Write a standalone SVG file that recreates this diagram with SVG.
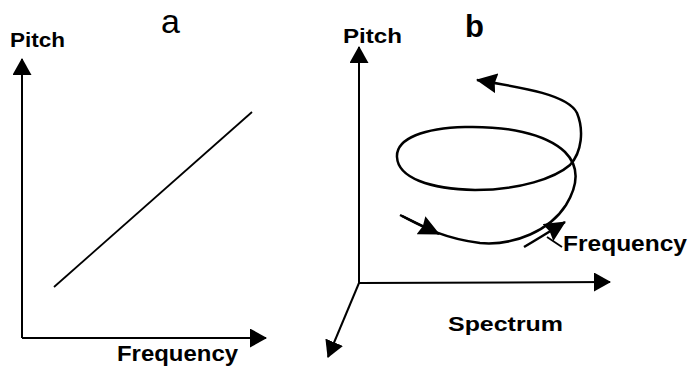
<svg xmlns="http://www.w3.org/2000/svg" width="688" height="372" viewBox="0 0 688 372">
<style>
.ax{fill:none;stroke:#000;stroke-width:2;marker-end:url(#ah)}
.sp{fill:none;stroke:#000;stroke-width:2.5}
.ln{fill:none;stroke:#000;stroke-width:1.8}
.lb{font-family:"Liberation Sans",Arial,sans-serif;font-weight:bold;fill:#000}
.pl{font-family:"Liberation Sans",Arial,sans-serif;fill:#000}
</style>
<defs>
<marker id="ah" markerUnits="userSpaceOnUse" markerWidth="17" markerHeight="19" viewBox="0 0 17 19" refX="16" refY="9.5" orient="auto">
<path d="M0,0 L17,9.5 L0,19 z" fill="#000"/>
</marker>
<marker id="sh" markerUnits="userSpaceOnUse" markerWidth="21" markerHeight="20" viewBox="0 0 21 20" refX="20" refY="10" orient="auto">
<path d="M0,0 L21,10 L0,20 L2,10 z" fill="#000"/>
</marker>
</defs>
<rect width="688" height="372" fill="#fff"/>
<g id="panel-a">
<g id="axes-a">
<path class="ax" d="M22,338 L22,59"/>
<path class="ax" d="M22,338 L266,338"/>
</g>
<path id="line-a" class="ln" d="M54,287 L252,112"/>
<text id="label-a" class="pl" x="161" y="33" font-size="34">a</text>
<text id="pitch-a" class="lb" x="10" y="47" font-size="21" textLength="55" lengthAdjust="spacingAndGlyphs">Pitch</text>
<text id="freq-a" class="lb" x="117" y="361" font-size="22" textLength="121" lengthAdjust="spacingAndGlyphs">Frequency</text>
</g>
<g id="panel-b">
<g id="axes-b">
<path class="ax" d="M359,283 L359,47"/>
<path class="ax" d="M359,283 L610,282"/>
<path class="ax" d="M359,283 L328,357"/>
</g>
<g id="spiral">
<path class="sp" marker-end="url(#sh)" d="M400,215 C418,224 440,238 480,243 C515,246 550,230 566,205 C580,182 578,165 565,152 C545,133 505,126 465,127 C425,128 396,138 397,157 C398,178 430,189 475,190 C520,190 555,178 570,165 C582,152 584,130 577,113 C568,95 525,88 477,80"/>
<path class="sp" marker-end="url(#sh)" d="M402,216 L439,234"/>
</g>
<g id="freq-arrow">
<path class="sp" marker-end="url(#sh)" d="M524,247 Q541,237 565,222"/>
<path class="ln" d="M547,237 L562,247"/>
</g>
<text id="label-b" class="lb" x="465" y="37" font-size="31">b</text>
<text id="pitch-b" class="lb" x="343" y="43" font-size="21" textLength="59" lengthAdjust="spacingAndGlyphs">Pitch</text>
<text id="freq-b" class="lb" x="563" y="251" font-size="22" textLength="124" lengthAdjust="spacingAndGlyphs">Frequency</text>
<text id="spectrum" class="lb" x="448" y="331" font-size="20" textLength="115" lengthAdjust="spacingAndGlyphs">Spectrum</text>
</g>
</svg>
